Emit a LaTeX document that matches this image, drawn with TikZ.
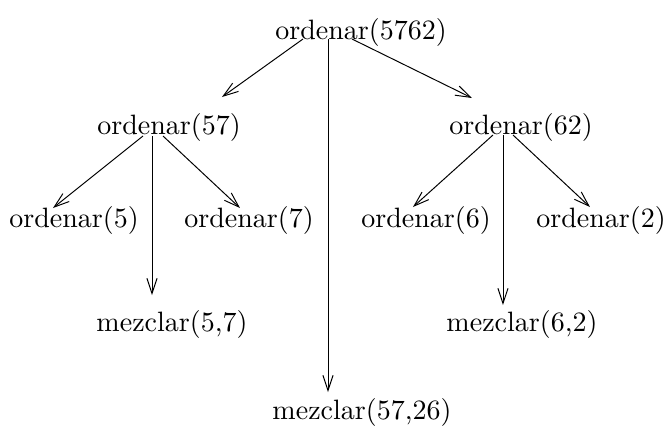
\documentclass[tikz,border=0pt]{standalone}
\usepackage{tikz}
\usetikzlibrary{arrows.meta, calc}

\begin{document}
\begin{tikzpicture}[
        x=0.357pt, y=-0.357pt,
        call/.style={inner sep=0pt, anchor=base},
        line/.style={draw, line width=0.35pt, -{Straight Barb[length=5.4pt, width=3.6pt]}}
    ]
    \useasboundingbox (0,0) rectangle (667,434);

    % Nodes - placed on their baselines
    \node[call] (top) at (361,39) {ordenar(5762)};
    \node[call] (left) at (169,134) {ordenar(57)};
    \node[call] (right) at (521,134) {ordenar(62)};
    \node[call] (o5) at (74,227) {ordenar(5)};
    \node[call] (o7) at (249,227) {ordenar(7)};
    \node[call] (o6) at (426,227) {ordenar(6)};
    \node[call] (o2) at (601,227) {ordenar(2)};
    \node[call] (mleft) at (172,331) {mezclar(5,7)};
    \node[call] (mright) at (522,331) {mezclar(6,2)};
    \node[call] (mtop) at (362,419) {mezclar(57,26)};

    % Connections
    \path [line] ($(top.base)+(-58,0)$) -- ($(left.base)+(53,-37)$);
    \path [line] ($(top.base)+(-33,0)$) -- ($(mtop.base)+(-34,-27)$);
    \path [line] ($(top.base)+(-9,0)$) -- ($(right.base)+(-49,-36)$);

    \path [line] ($(left.base)+(-26,2)$) -- ($(o5.base)+(-21,-19)$);
    \path [line] ($(left.base)+(-17,2)$) -- ($(mleft.base)+(-20,-36)$);
    \path [line] ($(left.base)+(-6,2)$) -- ($(o7.base)+(-9,-19)$);

    \path [line] ($(right.base)+(-28,1)$) -- ($(o6.base)+(-13,-20)$);
    \path [line] ($(right.base)+(-18,1)$) -- ($(mright.base)+(-19,-26)$);
    \path [line] ($(right.base)+(-8,1)$) -- ($(o2.base)+(-11,-20)$);

\end{tikzpicture}
\end{document}
